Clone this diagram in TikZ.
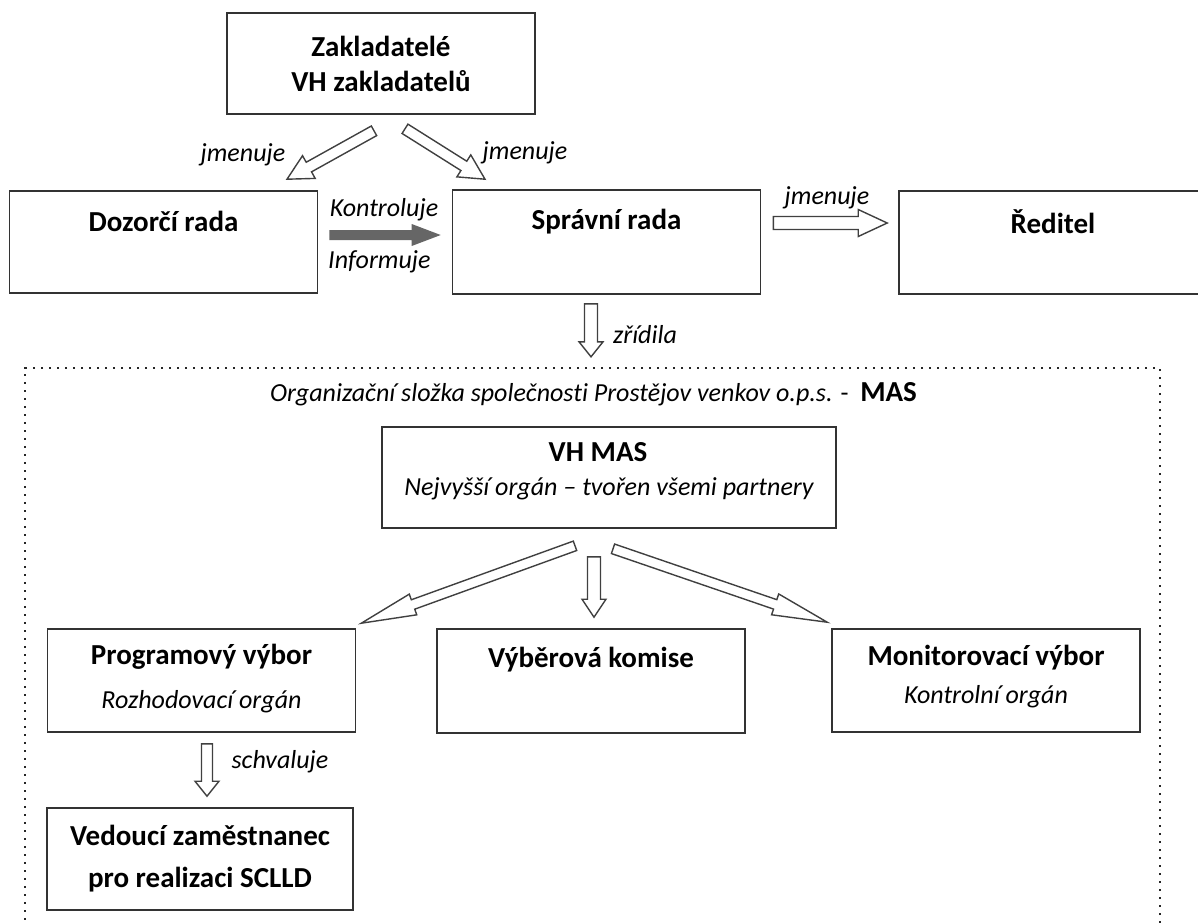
\documentclass[tikz,border=0pt]{standalone}
\usepackage{fontspec}
\setmainfont{Carlito}[Ligatures=NoCommon]
\usetikzlibrary{calc}

\tikzset{
  box/.style={draw=black!80, line width=1.6pt, minimum width=308, minimum height=103, inner sep=0pt},
  boxtitle/.style={font=\fontsize{29}{35}\selectfont\bfseries, align=center, inner sep=0pt},
  boxnote/.style={font=\fontsize{26}{31}\selectfont\itshape, inner sep=0pt},
  rel/.style={font=\fontsize{26}{31}\selectfont\itshape, inner sep=0pt},
  hollow/.style={draw=black!75, line width=1.4pt, fill=white, line join=miter},
  shaded/.style={draw=none, fill=black!60},
  frame/.style={draw=black!85, line width=2.4pt, dash pattern=on 2.4pt off 5.6pt, minimum width=1135, minimum height=572, inner sep=0pt},
}

% block arrow: [style]{from}{to}{shaft half width}{head half width}{head length}
\newcommand{\blockedge}[6][hollow]{%
  \draw[#1] let \p1=(#2), \p2=(#3), \n1={atan2(\y2-\y1,\x2-\x1)}, \n2={veclen(\x2-\x1,\y2-\y1)} in
    [shift={(\p1)}, rotate=\n1] (0,#4) -- (\n2-#6,#4) -- (\n2-#6,#5) -- (\n2,0)
    -- (\n2-#6,-#5) -- (\n2-#6,-#4) -- (0,-#4) -- cycle;
}

\begin{document}
\begin{tikzpicture}[x=1pt, y=-1pt]
  \useasboundingbox (0,0) rectangle (1198,922);
  \clip (0,0) rectangle (1198,922);

  % boxes
  \node[box, minimum height=101, boxtitle] (zak) at (381,63.5) {Zakladatelé\\VH zakladatelů};
  \node[box, minimum height=102] (dozor) at (163.5,242) {};
  \node[box, minimum height=104] (sprav) at (606.5,242) {};
  \node[box] (red) at (1053,242.5) {};
  \node[frame] (mas) at (592.5,654) {};
  \node[box, minimum width=454, minimum height=101] (vh) at (609,477.5) {};
  \node[box] (prog) at (201.5,680.5) {};
  \node[box, minimum height=104] (vyber) at (591,681) {};
  \node[box] (monit) at (986,680.5) {};
  \node[box, minimum width=306, minimum height=102, boxtitle, font=\fontsize{29}{42}\selectfont\bfseries] (ved) at (200,859) {Vedoucí zaměstnanec\\pro realizaci SCLLD};

  % box texts
  \node[boxtitle] (dozor-t) at ([shift={(0,31)}]dozor.north) {Dozorčí rada};
  \node[boxtitle] (sprav-t) at ([shift={(0,32)}]sprav.north) {Správní rada};
  \node[boxtitle] (red-t) at ([shift={(0,31)}]red.north) {Ředitel};
  \node[inner sep=0pt, font=\fontsize{26}{31}\selectfont] (mas-t) at ([shift={(1,27)}]mas.north)
    {\textit{Organizační složka společnosti Prostějov venkov o.p.s.} -~ \textbf{\fontsize{29}{35}\selectfont MAS}};
  \node[boxtitle] (vh-t) at ([shift={(-11,26)}]vh.north) {VH MAS};
  \node[boxnote] (vh-s) at ([shift={(0,63)}]vh.north) {Nejvyšší orgán – tvořen všemi partnery};
  \node[boxtitle] (prog-t) at ([shift={(0,29)}]prog.north) {Programový výbor};
  \node[boxnote] (prog-s) at ([shift={(0,73)}]prog.north) {Rozhodovací orgán};
  \node[boxtitle] (vyber-t) at ([shift={(0,31)}]vyber.north) {Výběrová komise};
  \node[boxtitle] (monit-t) at ([shift={(0,29)}]monit.north) {Monitorovací výbor};
  \node[boxnote] (monit-s) at ([shift={(0,68)}]monit.north) {Kontrolní orgán};

  % arrow ends
  \coordinate (zak-l) at ([shift={(-7,16)}]zak.south);
  \coordinate (zak-r) at ([shift={(24,14)}]zak.south);
  \coordinate (dozor-in) at ([shift={(123.5,-11)}]dozor.north);
  \coordinate (sprav-in) at ([shift={(-121.5,-10)}]sprav.north);
  \coordinate (dozor-out) at ([shift={(11,-7)}]dozor.east);
  \coordinate (sprav-ctl) at ([shift={(-11,-7)}]sprav.west);
  \coordinate (sprav-out) at ([shift={(12,-19)}]sprav.east);
  \coordinate (red-in) at ([shift={(-11,-19.5)}]red.west);
  \coordinate (sprav-dn) at ([shift={(-15.5,9)}]sprav.south);
  \coordinate (mas-in) at ([shift={(-1.5,-10)}]mas.north);
  \coordinate (vh-l) at ([shift={(-34,17)}]vh.south);
  \coordinate (vh-m) at ([shift={(-15,28)}]vh.south);
  \coordinate (vh-r) at ([shift={(4,20)}]vh.south);
  \coordinate (prog-in) at ([shift={(5,-5)}]prog.north east);
  \coordinate (vyber-in) at ([shift={(3,-11)}]vyber.north);
  \coordinate (monit-in) at ([shift={(-4,-6)}]monit.north west);
  \coordinate (prog-dn) at ([shift={(5.5,11)}]prog.south);
  \coordinate (ved-in) at ([shift={(7,-11)}]ved.north);

  % arrows
  \blockedge{zak-l}{dozor-in}{5.5}{13}{25}
  \blockedge{zak-r}{sprav-in}{5.5}{13}{25}
  \blockedge[shaded]{dozor-out}{sprav-ctl}{5}{11}{29}
  \blockedge{sprav-out}{red-in}{6.5}{13.5}{29}
  \blockedge{sprav-dn}{mas-in}{6.5}{12}{15}
  \blockedge{vh-l}{prog-in}{5}{11}{55}
  \blockedge{vh-m}{vyber-in}{6.5}{12}{18}
  \blockedge{vh-r}{monit-in}{5}{11}{55}
  \blockedge{prog-dn}{ved-in}{5.5}{12}{15}

  % arrow texts
  \node[rel] (jm-l) at (243,155) {jmenuje};
  \node[rel] (jm-r) at (525,153) {jmenuje};
  \node[rel] (kontr) at (384,210) {Kontroluje};
  \node[rel, anchor=west] (inform) at (328,262) {Informuje};
  \node[rel] (jm-red) at (827,198) {jmenuje};
  \node[rel] (zrid) at (645,335) {zřídila};
  \node[rel] (schv) at (280,762) {schvaluje};
\end{tikzpicture}
\end{document}
